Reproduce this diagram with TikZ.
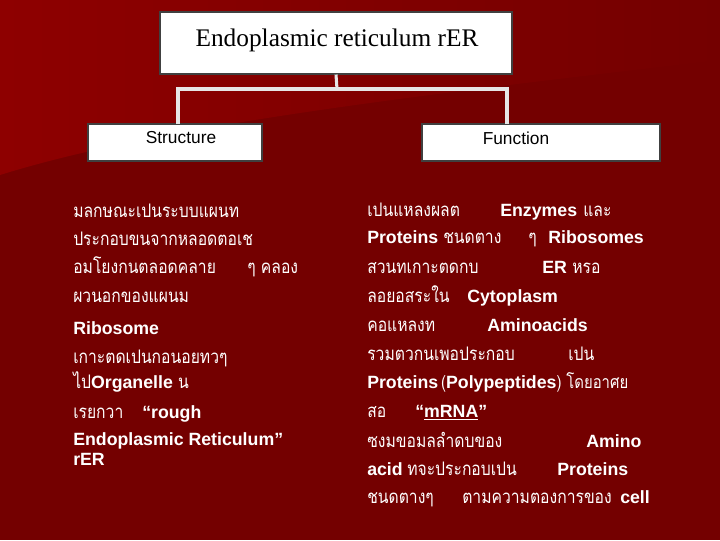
\documentclass[tikz,border=0pt]{standalone}
\usepackage{fontspec}
\usepackage{xcolor}
\usepackage{tikz}
\setmainfont{Liberation Sans}
\newfontfamily\thaifont[Script=Thai,FakeStretch=0.84]{Loma}
\newfontfamily\serifont{Liberation Serif}
\definecolor{bgdark}{HTML}{740000}
\definecolor{bglight}{HTML}{8E0000}
\definecolor{linkgray}{HTML}{E6E6E6}
\newcommand{\tht}[1]{{\thaifont #1}}
\tikzset{
  box/.style={draw=black!75, fill=white, line width=0.8pt, inner sep=0pt},
  thaitxt/.style={anchor=base west, inner sep=0pt, text=white, font=\thaifont\fontsize{14}{16}\selectfont},
  engtxt/.style={anchor=base west, inner sep=0pt, text=white, font=\bfseries\fontsize{13.3}{16}\selectfont},
  link/.style={draw=linkgray, line width=2.3pt}
}
\begin{document}
\begin{tikzpicture}[x=0.75pt,y=0.75pt,yscale=-1,xscale=1]
\useasboundingbox (0,0) rectangle (720,540);

%Background
\fill[bgdark] (0,0) rectangle (720,540);
\shade[left color=bglight, right color=bgdark] (0,0) -- (720,0) -- (720,60) .. controls (420,95) and (160,125) .. (0,175) -- cycle;

%Boxes
\node[box, minimum width=264pt, minimum height=46.5pt] (title) at (336,43) {};
\node[box, minimum width=130.5pt, minimum height=27.75pt] (struct) at (175,142.5) {};
\node[box, minimum width=178.5pt, minimum height=27.75pt] (func) at (541,142.5) {};

% Box texts
\node[inner sep=0pt, font=\serifont\fontsize{19}{22}\selectfont] (titletxt) at (337,40) {Endoplasmic reticulum rER};
\node[inner sep=0pt, font=\fontsize{13}{15}\selectfont] (structtxt) at (181,138) {Structure};
\node[inner sep=0pt, font=\fontsize{13}{15}\selectfont] (functxt) at (516,138) {Function};

%Connectors
\coordinate (jn) at (337,89);
\coordinate (sl) at (178,124);
\coordinate (fl) at (507,124);
\draw[link] (title.south) -- (jn);
\draw[link] (jn) -| (sl);
\draw[link] (jn) -| (fl);

% Structure text
\node[thaitxt] (s1) at (73,217) {มลกษณะเปนระบบแผนท};
\node[thaitxt] (s2) at (73,245) {ประกอบขนจากหลอดตอเช};
\node[thaitxt] (s3) at (73,273) {อมโยงกนตลอดคลาย};
\node[thaitxt] (s3b) at (247,273) {ๆ คลอง};
\node[thaitxt] (s4) at (73,302) {ผวนอกของแผนม};
\node[engtxt] (s5) at (73,334) {Ribosome};
\node[thaitxt] (s6) at (73,363) {เกาะตดเปนกอนอยทวๆ};
\node[thaitxt] (s7) at (73,388) {ไป\textbf{\fontspec{Liberation Sans}\fontsize{13.3}{16}\selectfont Organelle} น};
\node[thaitxt] (s8) at (73,418) {เรยกวา};
\node[engtxt] (s8b) at (142,418) {“rough};
\node[engtxt] (s9) at (73,445) {Endoplasmic Reticulum”};
\node[engtxt] (s10) at (73,465) {rER};

% Function text
\node[thaitxt] (f1) at (367,216) {เปนแหลงผลต};
\node[engtxt] (f1b) at (500,216) {Enzymes};
\node[thaitxt] (f1c) at (583,216) {และ};
\node[engtxt] (f2) at (367,243) {Proteins};
\node[thaitxt] (f2b) at (443,243) {ชนดตาง};
\node[thaitxt] (f2c) at (528,243) {ๆ};
\node[engtxt] (f2d) at (548,243) {Ribosomes};
\node[thaitxt] (f3) at (367,273) {สวนทเกาะตดกบ};
\node[engtxt] (f3b) at (542,273) {ER};
\node[thaitxt] (f3c) at (572,273) {หรอ};
\node[thaitxt] (f4) at (367,302) {ลอยอสระใน};
\node[engtxt] (f4b) at (467,302) {Cytoplasm};
\node[thaitxt] (f5) at (367,331) {คอแหลงท};
\node[engtxt] (f5b) at (487,331) {Aminoacids};
\node[thaitxt] (f6) at (367,360) {รวมตวกนเพอประกอบ};
\node[thaitxt] (f6b) at (568,360) {เปน};
\node[engtxt] (f7) at (367,388) {Proteins\,\tht{\mdseries(}Polypeptides\tht{\mdseries)} \tht{\mdseries โดยอาศย}};
\node[thaitxt] (f8) at (367,417) {สอ};
\node[engtxt] (f8b) at (415,417) {“\underline{mRNA}”};
\node[thaitxt] (f9) at (367,447) {ซงมขอมลลำดบของ};
\node[engtxt] (f9b) at (586,447) {Amino};
\node[engtxt] (f10) at (367,475) {acid};
\node[thaitxt] (f10b) at (407,475) {ทจะประกอบเปน};
\node[engtxt] (f10c) at (557,475) {Proteins};
\node[thaitxt] (f11) at (367,503) {ชนดตางๆ};
\node[thaitxt] (f11b) at (462,503) {ตามความตองการของ};
\node[engtxt] (f11c) at (620,503) {cell};
\end{tikzpicture}
\end{document}
